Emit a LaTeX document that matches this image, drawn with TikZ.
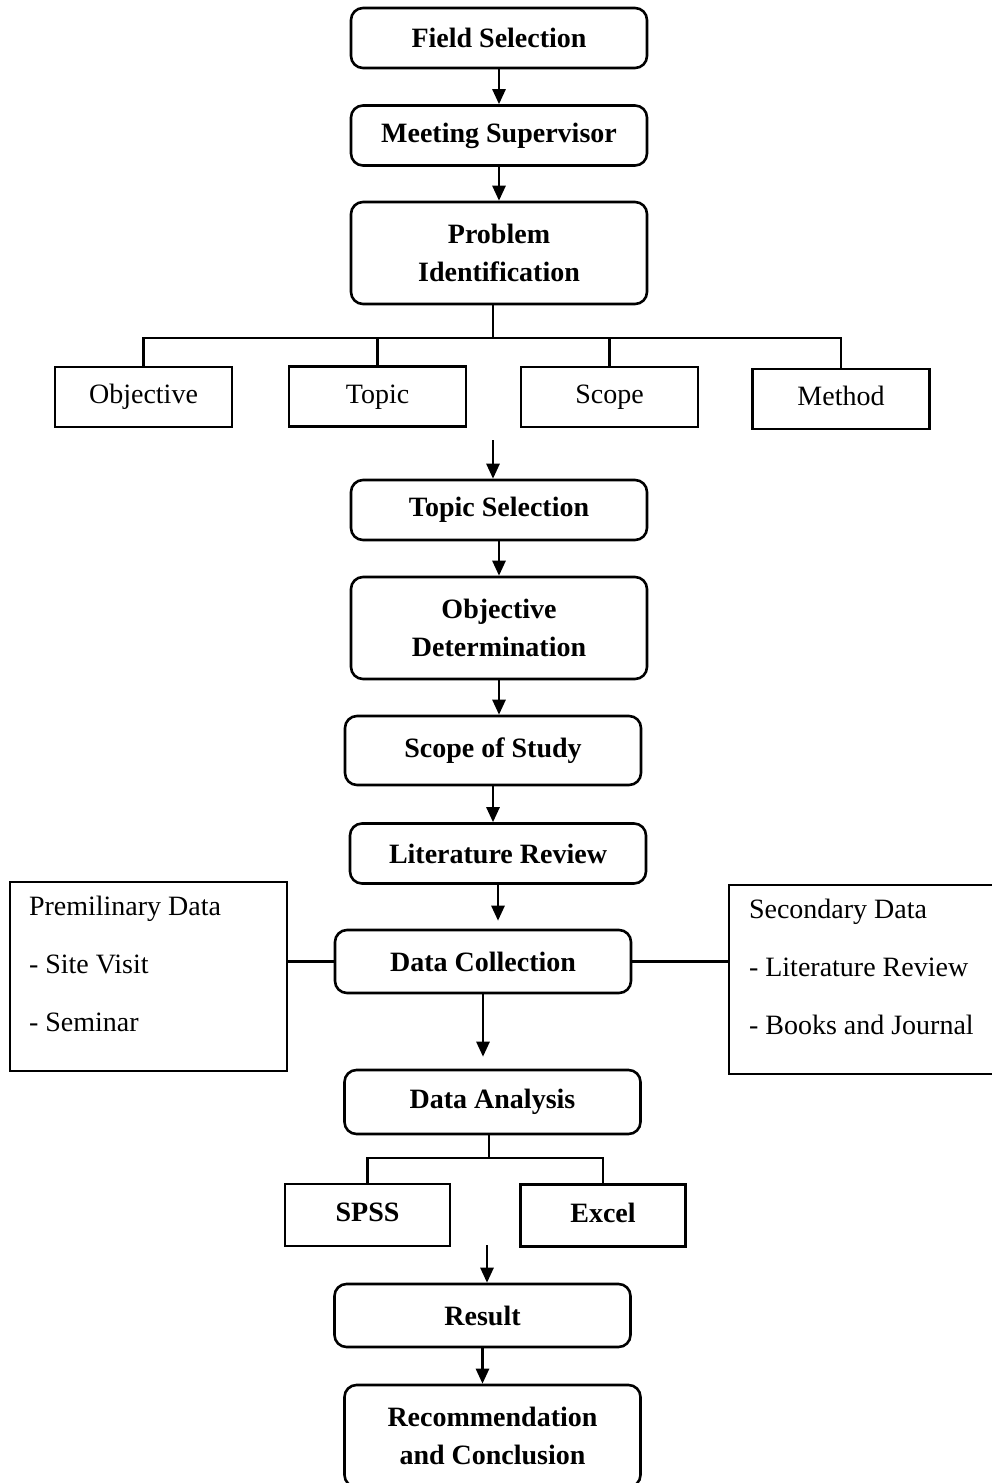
\documentclass[tikz,border=0pt]{standalone}
\usepackage{fontspec}
\setmainfont{Liberation Serif}
\usetikzlibrary{arrows.meta}

\tikzset{
  stepbox/.style={draw, line width=1.3pt, rounded corners=6pt, minimum width=148pt,
    minimum height=30pt, align=center, inner sep=2pt,
    font=\fontsize{14}{19}\selectfont\bfseries},
  tallbox/.style={stepbox, minimum height=51pt},
  subbox/.style={draw, line width=1.2pt, minimum width=88.5pt, minimum height=30pt,
    text height=9.5pt, text depth=3pt, font=\fontsize{14}{17}\selectfont},
  toolbox/.style={subbox, minimum width=82.5pt, minimum height=31pt,
    font=\fontsize{14}{17}\selectfont\bfseries},
  databox/.style={draw, line width=1.2pt, minimum height=94.5pt, align=flush left,
    text depth=71pt, font=\fontsize{14}{29}\selectfont},
  flow/.style={line width=1.3pt, -{Triangle[length=7.5pt,width=6.5pt]}},
  link/.style={line width=1.3pt}
}

\begin{document}
\begin{tikzpicture}[x=0.5pt, y=-0.5pt]
\useasboundingbox (0,0) rectangle (991,1483);
% first steps
\node[stepbox] (field) at (499,38) {Field Selection};
\node[stepbox] (meeting) at (499,135.5) {Meeting Supervisor};
\node[tallbox] (problem) at (499,253) {Problem\\Identification};
% four parts of the problem
\node[subbox] (objbox) at (143.5,397) {Objective};
\node[subbox] (topicbox) at (377.5,396.5) {Topic};
\node[subbox] (scopebox) at (609.5,397) {Scope};
\node[subbox] (methodbox) at (841,399) {Method};
% main chain
\node[stepbox] (topsel) at (499,510) {Topic Selection};
\node[tallbox] (objdet) at (499,628) {Objective\\Determination};
\node[stepbox, minimum height=34.5pt] (scopest) at (493,750.5) {Scope of Study};
\node[stepbox] (lit) at (498,853.5) {Literature Review};
\node[stepbox, minimum height=31.5pt] (dcoll) at (483,961.5) {Data Collection};
% data sources
\node[databox, text width=119.5pt, inner xsep=9.5pt] (prelim) at (148.5,976.5)
  {Premilinary Data\\- Site Visit\\- Seminar};
\node[databox, text width=130pt, inner xsep=10pt] (second) at (879,979.5)
  {Secondary Data\\- Literature Review\\- Books and Journal};
% analysis
\node[stepbox, minimum height=32pt] (analysis) at (492.5,1102) {Data Analysis};
\node[toolbox] (spss) at (367.5,1215) {SPSS};
\node[toolbox] (excel) at (603,1215.5) {Excel};
\node[stepbox, minimum height=31.5pt] (result) at (482.5,1315.5) {Result};
\node[tallbox] (rec) at (492.5,1436) {Recommendation\\and Conclusion};

% arrows
\draw[flow] (field) -- (meeting);
\draw[flow] (meeting) -- (problem);
\coordinate (split) at (493,338);
\draw[link] (problem.south -| split) -- (split);
\draw[link] (objbox.north) |- (split) -| (methodbox.north);
\draw[link] (topicbox.north) -- (topicbox.north |- split);
\draw[link] (scopebox.north) -- (scopebox.north |- split);
\coordinate (restart) at (493,440);
\draw[flow] (restart) -- (restart |- topsel.north);
\draw[flow] (topsel) -- (objdet);
\draw[flow] (objdet.south) -- (objdet.south |- scopest.north);
\draw[flow] (scopest.south) -- (scopest.south |- lit.north);
\draw[flow, shorten >=4pt] (lit.south) -- (lit.south |- dcoll.north);
\draw[link] (dcoll.west) -- (dcoll.west -| prelim.east);
\draw[link] (dcoll.east) -- (dcoll.east -| second.west);
\draw[flow, shorten >=6pt] (dcoll.south) -- (dcoll.south |- analysis.north);
\coordinate (split2) at (489,1158);
\draw[link] (analysis.south -| split2) -- (split2);
\draw[link] (spss.north) |- (split2) -| (excel.north);
\coordinate (resume) at (487,1245);
\draw[flow] (resume) -- (resume |- result.north);
\draw[flow] (result.south) -- (result.south |- rec.north);
\end{tikzpicture}
\end{document}
